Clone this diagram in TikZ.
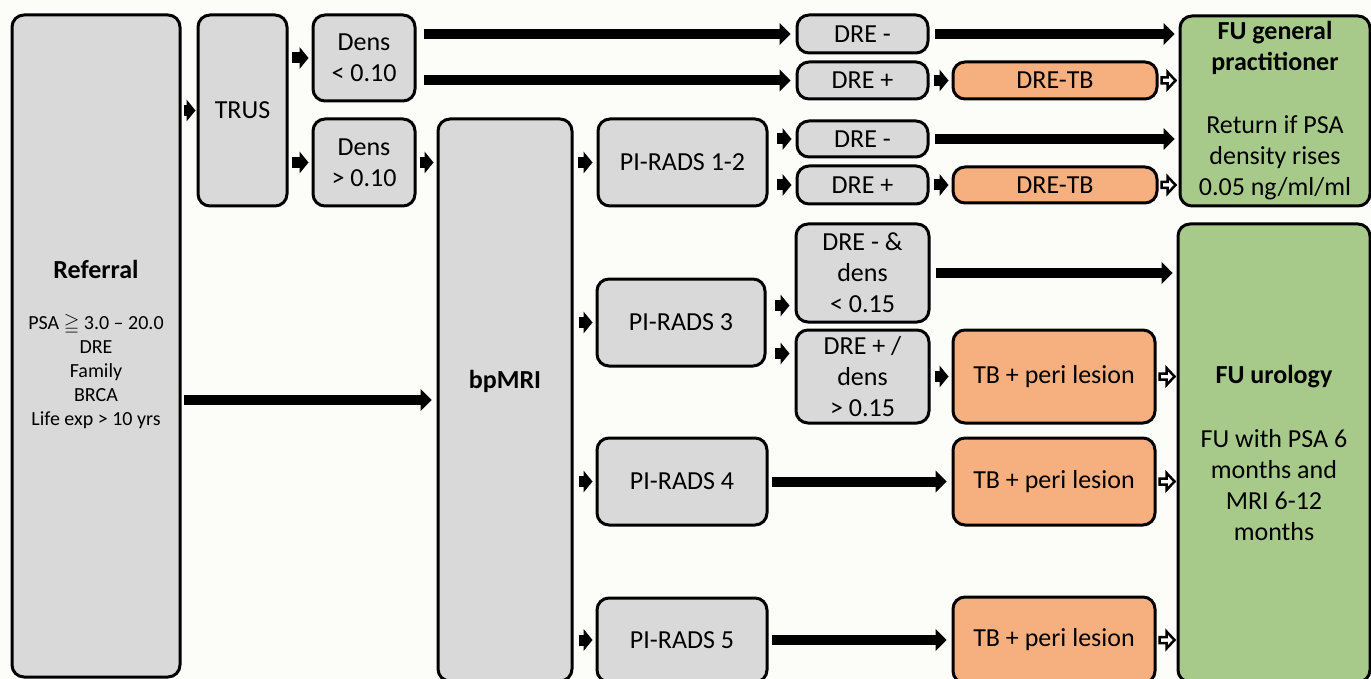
\documentclass[tikz,border=0pt]{standalone}
\usepackage{amssymb}
\usepackage{fontspec}
\setmainfont{Carlito}
\usetikzlibrary{arrows.meta,calc}

\definecolor{boxgray}{HTML}{D9D9D9}
\definecolor{tborange}{HTML}{F6B07F}
\definecolor{fugreen}{HTML}{A7CA8B}
\definecolor{paper}{HTML}{FCFDF8}

\newcommand{\bigtxt}{\fontsize{26}{31}\selectfont}
\newcommand{\smalltxt}{\fontsize{20}{24}\selectfont}

% hollow block arrow between two points
\newcommand{\openarrow}[2]{%
  \draw[openarr] let \p1=(#1), \p2=(#2) in
    (\x1,\y1+3pt) -- (\x2-8pt,\y1+3pt) -- (\x2-8pt,\y1+8.5pt) -- (\x2,\y1)
    -- (\x2-8pt,\y1-8.5pt) -- (\x2-8pt,\y1-3pt) -- (\x1,\y1-3pt) -- cycle;}

\tikzset{
  box/.style={draw, line width=3pt, rounded corners=12pt, fill=boxgray,
    align=center, inner sep=0pt, font=\bigtxt},
  tbbox/.style={box, fill=tborange},
  fubox/.style={box, fill=fugreen},
  arr/.style={line width=11pt, -{Triangle[length=9pt,width=22pt,line width=0pt]}},
  longarr/.style={line width=10pt, -{Triangle[length=11pt,width=22pt,line width=0pt]}},
  openarr/.style={draw, line width=2.5pt, fill=white, line join=miter}
}

\begin{document}
\begin{tikzpicture}[x=1pt,y=-1pt]
    \useasboundingbox (0,0) rectangle (1371,679);
    \fill[paper] (0,0) rectangle (1371,679);
    \clip (0,0) rectangle (1371,679);

    % Left column
    \node[box, minimum width=168pt, minimum height=662pt] (referral) at (96,346)
        {\textbf{Referral}\\[33pt]{\smalltxt\begin{tabular}{@{}c@{}}PSA $\geqq$ 3.0 -- 20.0\\DRE\\Family\\BRCA\\Life exp > 10 yrs\end{tabular}}};
    \node[box, minimum width=89pt, minimum height=191pt] (trus) at (242.5,110.5) {TRUS};
    \node[box, minimum width=102pt, minimum height=86pt] (densA) at (364,58) {Dens\\< 0.10};
    \node[box, minimum width=102pt, minimum height=87pt] (densB) at (364,162.5) {Dens\\> 0.10};
    \node[box, minimum width=134pt, minimum height=562pt,
        label={[font=\bigtxt\bfseries, yshift=19pt]center:bpMRI}] (bpmri) at (505,400) {};

    % PI-RADS
    \node[box, minimum width=169pt, minimum height=87pt] (pirads12) at (682.5,162.5) {PI-RADS 1-2};
    \node[box, minimum width=168pt, minimum height=87pt] (pirads3) at (681,322.5) {PI-RADS 3};
    \node[box, minimum width=170pt, minimum height=87pt] (pirads4) at (682,481.5) {PI-RADS 4};
    \node[box, minimum width=170pt, minimum height=84pt] (pirads5) at (682,640) {PI-RADS 5};

    % DRE
    \node[box, minimum width=131pt, minimum height=38pt] (dreA) at (862.5,34) {DRE -};
    \node[box, minimum width=131pt, minimum height=37pt] (dreB) at (862.5,80.5) {DRE +};
    \node[box, minimum width=131pt, minimum height=36pt] (dreC) at (862.5,139) {DRE -};
    \node[box, minimum width=131pt, minimum height=38pt] (dreD) at (862.5,185) {DRE +};
    \node[box, minimum width=133pt, minimum height=98pt] (dreE) at (862.5,273) {DRE - \&\\dens\\< 0.15};
    \node[box, minimum width=133pt, minimum height=93pt] (dreF) at (862.5,376.5) {DRE + /\\dens\\> 0.15};

    % Biopsies
    \node[tbbox, minimum width=204pt, minimum height=37pt] (tbA) at (1055,80.5) {DRE-TB};
    \node[tbbox, minimum width=204pt, minimum height=36pt] (tbB) at (1055,185) {DRE-TB};
    \node[tbbox, minimum width=202pt, minimum height=93pt] (tbC) at (1054,376.5) {TB + peri lesion};
    \node[tbbox, minimum width=202pt, minimum height=87pt] (tbD) at (1054,481.5) {TB + peri lesion};
    \node[tbbox, minimum width=202pt, minimum height=86pt] (tbE) at (1054,640) {TB + peri lesion};

    % Follow up
    \node[fubox, minimum width=190pt, minimum height=190pt] (fugp) at (1275,111)
        {\textbf{FU general}\\\textbf{practitioner}\\[32pt]Return if PSA\\density rises\\0.05 ng/ml/ml};
    \node[fubox, minimum width=192pt, minimum height=458pt] (fuuro) at (1274,453)
        {\textbf{FU urology}\\[33pt]FU with PSA 6\\months and\\MRI 6-12\\months};

    % Small arrows
    \draw[arr] ([xshift=2pt]referral.east |- trus) -- ([xshift=-1pt]trus.west);
    \draw[arr] ([xshift=3pt]trus.east |- densA) -- ([xshift=-3pt]densA.west);
    \draw[arr] ([xshift=3pt]trus.east |- densB) -- ([xshift=-3pt]densB.west);
    \draw[arr] ([xshift=3pt]densB.east) -- ([xshift=-3pt]bpmri.west |- densB);
    \draw[arr] ([xshift=4pt]bpmri.east |- pirads12) -- ([xshift=-4pt]pirads12.west);
    \draw[arr] ([xshift=8pt]pirads12.east |- dreC) -- ([xshift=-4pt]dreC.west);
    \draw[arr] ([xshift=8pt]pirads12.east |- dreD) -- ([xshift=-4pt]dreD.west);
    \draw[arr] ([xshift=4pt]dreB.east) -- ([xshift=-3pt]tbA.west);
    \draw[arr] ([xshift=4pt]dreD.east) -- ([xshift=-3pt]tbB.west);
    \draw[arr] ([xshift=5pt]bpmri.east |- pirads3) -- ([xshift=-3pt]pirads3.west);
    \draw[arr] ([xshift=5pt]bpmri.east |- pirads4) -- ([xshift=-3pt]pirads4.west);
    \draw[arr] ([xshift=5pt]bpmri.east |- pirads5) -- ([xshift=-3pt]pirads5.west);
    \coordinate (p3hi) at ([yshift=17pt]pirads3.east);
    \coordinate (p3lo) at ([yshift=-31pt]pirads3.east);
    \draw[arr] ([xshift=8pt]p3hi) -- ([xshift=-5pt]dreE.west |- p3hi);
    \draw[arr] ([xshift=8pt]p3lo) -- ([xshift=-5pt]dreF.west |- p3lo);
    \draw[arr] ([xshift=4pt]dreF.east) -- ([xshift=-3pt]tbC.west);

    % Long arrows
    \draw[longarr] ([xshift=7pt]densA.east |- dreA) -- ([xshift=-5pt]dreA.west);
    \draw[longarr] ([xshift=7pt]densA.east |- dreB) -- ([xshift=-5pt]dreB.west);
    \draw[longarr] ([xshift=5pt]dreA.east) -- ([xshift=-4pt]fugp.west |- dreA);
    \draw[longarr] ([xshift=5pt]dreC.east) -- ([xshift=-4pt]fugp.west |- dreC);
    \draw[longarr] ([xshift=5pt]dreE.east) -- ([xshift=-4pt]fuuro.west |- dreE);
    \draw[longarr] ([xshift=2pt]referral.east |- bpmri) -- ([xshift=-5pt]bpmri.west);
    \draw[longarr] ([xshift=3pt]pirads4.east) -- ([xshift=-5pt]tbD.west);
    \draw[longarr] ([xshift=3pt]pirads5.east) -- ([xshift=-5pt]tbE.west);

    % Hollow arrows
    \openarrow{[xshift=3pt]tbA.east}{[xshift=-3pt]fugp.west |- tbA}
    \openarrow{[xshift=3pt]tbB.east}{[xshift=-3pt]fugp.west |- tbB}
    \openarrow{[xshift=3pt]tbC.east}{[xshift=-2pt]fuuro.west |- tbC}
    \openarrow{[xshift=3pt]tbD.east}{[xshift=-2pt]fuuro.west |- tbD}
    \openarrow{[xshift=3pt]tbE.east}{[xshift=-2pt]fuuro.west |- tbE}
\end{tikzpicture}
\end{document}
